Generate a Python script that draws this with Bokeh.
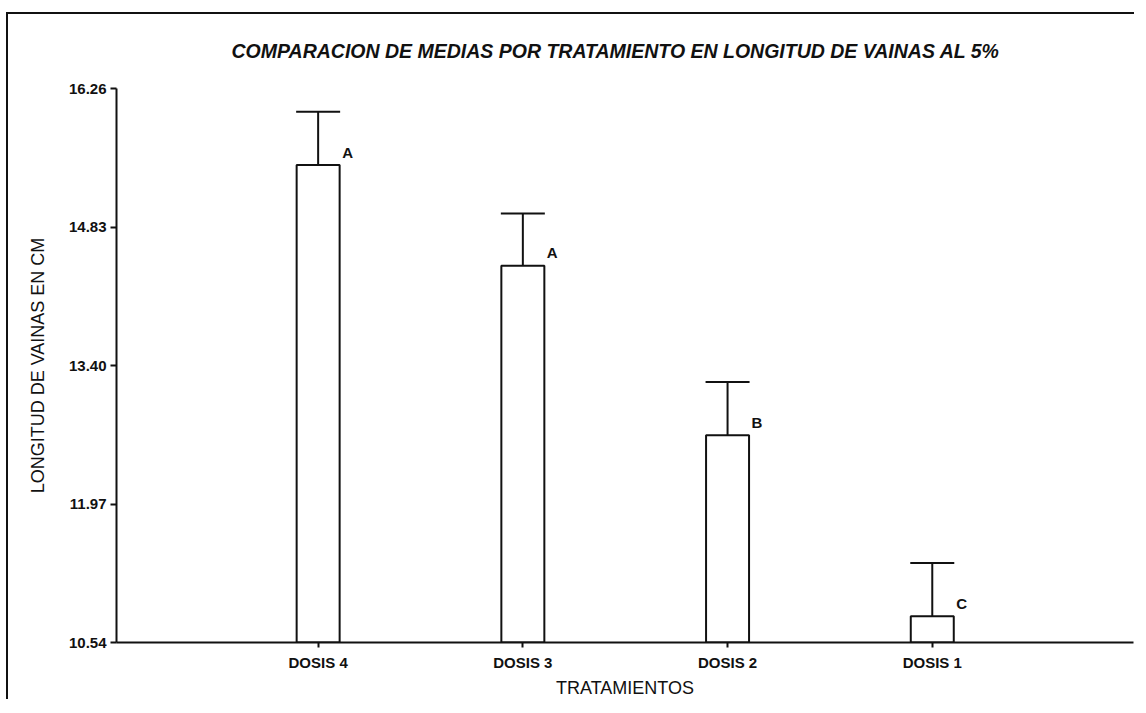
from bokeh.plotting import figure
from bokeh.models import Range1d, FixedTicker, Whisker, TeeHead, ColumnDataSource
from bokeh.core.properties import value
from bokeh.embed import file_html
from bokeh.resources import INLINE

title_text = "COMPARACION DE MEDIAS POR TRATAMIENTO EN LONGITUD DE VAINAS AL 5%"
treatments = ["DOSIS 4", "DOSIS 3", "DOSIS 2", "DOSIS 1"]
positions = [1, 2, 3, 4]
means = [15.47, 14.43, 12.68, 10.81]
upper = [16.02, 14.97, 13.23, 11.36]
letters = ["A", "A", "B", "C"]
y_ticks = [10.54, 11.97, 13.40, 14.83, 16.26]
y_min, y_max = 10.54, 16.26

FONT = "Liberation Sans"
INK = "#111111"

src = ColumnDataSource(dict(x=positions, top=means, up=upper, lab=letters))

p = figure(width=1128, height=687, output_backend="svg", toolbar_location=None,
           x_range=Range1d(0.015, 4.983), y_range=Range1d(y_min, y_max),
           min_border_left=108, min_border_right=3, min_border_top=72, min_border_bottom=59,
           title=title_text)
p.styles = {"border-top": "2px solid #111", "border-left": "2px solid #111",
            "margin-top": "12px", "margin-left": "6px"}
p.outline_line_color = None
p.grid.visible = False
p.background_fill_color = "white"

p.title.align = "left"
p.title.offset = 115
p.title.vertical_align = "top"
p.title.text_font = FONT
p.title.text_font_style = "bold italic"
p.title.text_font_size = "19.5px"
p.title.text_color = INK
p.title.standoff = 50

p.vbar(x="x", top="top", bottom=y_min, width=0.21, source=src,
       fill_color="white", line_color=INK, line_width=2)
p.add_layout(Whisker(source=src, base="x", lower="top", upper="up", dimension="height",
                     line_color=INK, line_width=2, lower_head=None,
                     upper_head=TeeHead(size=44, line_color=INK, line_width=2)))
p.text(x="x", y="top", text="lab", source=src, x_offset=24, y_offset=-13,
       text_align="left", text_baseline="middle", text_font=value(FONT),
       text_font_size="15px", text_font_style="bold", text_color=INK)

yax = p.yaxis[0]
yax.ticker = FixedTicker(ticks=y_ticks)
yax.major_label_overrides = {t: f"{t:.2f}" for t in y_ticks}
yax.axis_label = "LONGITUD DE VAINAS EN CM"
yax.minor_tick_line_color = None
yax.major_tick_in = 0
yax.major_tick_out = 6
yax.major_label_standoff = 4
yax.axis_label_standoff = 18

xax = p.xaxis[0]
xax.ticker = FixedTicker(ticks=positions)
xax.major_label_overrides = {pos: t for pos, t in zip(positions, treatments)}
xax.axis_label = "TRATAMIENTOS"
xax.minor_tick_line_color = None
xax.major_tick_in = 0
xax.major_tick_out = 5
xax.major_label_standoff = 6
xax.axis_label_standoff = 4

for ax in (xax, yax):
    ax.axis_line_color = INK
    ax.axis_line_width = 2
    ax.major_tick_line_color = INK
    ax.major_tick_line_width = 2
    ax.major_label_text_font = FONT
    ax.major_label_text_font_size = "15px"
    ax.major_label_text_font_style = "bold"
    ax.major_label_text_color = INK
    ax.axis_label_text_font = FONT
    ax.axis_label_text_font_size = "18px"
    ax.axis_label_text_font_style = "normal"
    ax.axis_label_text_color = INK

open("out.html", "w").write(file_html(p, INLINE))
